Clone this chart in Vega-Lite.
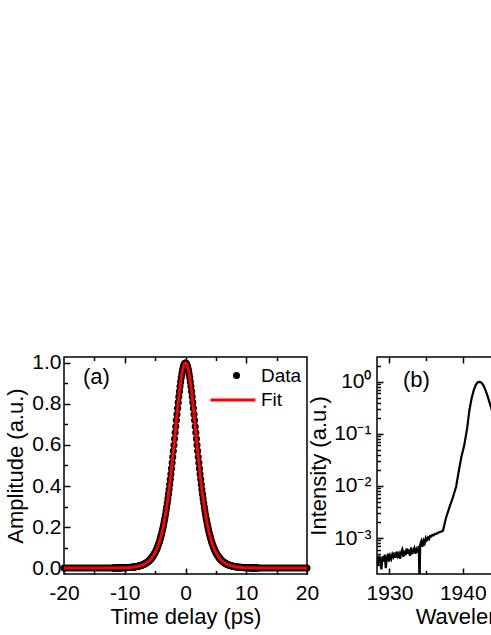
{
  "$schema": "https://vega.github.io/schema/vega-lite/v6.json",
  "autosize": {"type": "pad"},
  "padding": {"left": 4, "top": 351, "right": 0, "bottom": 0},
  "background": "white",
  "datasets": {
    "pulse": [
      {"t":-20,"a":0},{"t":-19.6,"a":0},{"t":-19.2,"a":0},{"t":-18.8,"a":0},{"t":-18.4,"a":0},{"t":-18,"a":0},{"t":-17.6,"a":0},{"t":-17.2,"a":0},{"t":-16.8,"a":0},{"t":-16.4,"a":0},{"t":-16,"a":0},{"t":-15.6,"a":0},{"t":-15.2,"a":0},{"t":-14.8,"a":0},{"t":-14.4,"a":0},{"t":-14,"a":0},{"t":-13.6,"a":0},{"t":-13.2,"a":0.0001},{"t":-12.8,"a":0.0001},{"t":-12.4,"a":0.0002},
      {"t":-12,"a":0.0003},{"t":-11.9,"a":0.0003},{"t":-11.8,"a":0.0004},{"t":-11.7,"a":0.0004},{"t":-11.6,"a":0.0004},{"t":-11.5,"a":0.0005},{"t":-11.4,"a":0.0005},{"t":-11.3,"a":0.0006},{"t":-11.2,"a":0.0006},{"t":-11.1,"a":0.0007},
      {"t":-11,"a":0.0007},{"t":-10.9,"a":0.0008},{"t":-10.8,"a":0.0008},{"t":-10.7,"a":0.0009},{"t":-10.6,"a":0.001},{"t":-10.5,"a":0.001},{"t":-10.4,"a":0.0011},{"t":-10.3,"a":0.0012},{"t":-10.2,"a":0.0013},{"t":-10.1,"a":0.0014},
      {"t":-10,"a":0.0016},{"t":-9.9,"a":0.0017},{"t":-9.8,"a":0.0018},{"t":-9.7,"a":0.002},{"t":-9.6,"a":0.0021},{"t":-9.5,"a":0.0023},{"t":-9.4,"a":0.0025},{"t":-9.3,"a":0.0027},{"t":-9.2,"a":0.0029},{"t":-9.1,"a":0.0032},
      {"t":-9,"a":0.0034},{"t":-8.9,"a":0.0037},{"t":-8.8,"a":0.004},{"t":-8.7,"a":0.0043},{"t":-8.6,"a":0.0047},{"t":-8.5,"a":0.0051},{"t":-8.4,"a":0.0055},{"t":-8.3,"a":0.0059},{"t":-8.2,"a":0.0064},{"t":-8.1,"a":0.007},
      {"t":-8,"a":0.0075},{"t":-7.9,"a":0.0081},{"t":-7.8,"a":0.0088},{"t":-7.7,"a":0.0095},{"t":-7.6,"a":0.0103},{"t":-7.5,"a":0.0111},{"t":-7.4,"a":0.012},{"t":-7.3,"a":0.013},{"t":-7.2,"a":0.014},{"t":-7.1,"a":0.0151},
      {"t":-7,"a":0.0164},{"t":-6.9,"a":0.0177},{"t":-6.8,"a":0.0191},{"t":-6.7,"a":0.0207},{"t":-6.6,"a":0.0223},{"t":-6.5,"a":0.0241},{"t":-6.4,"a":0.0261},{"t":-6.3,"a":0.0282},{"t":-6.2,"a":0.0304},{"t":-6.1,"a":0.0329},
      {"t":-6,"a":0.0355},{"t":-5.9,"a":0.0384},{"t":-5.8,"a":0.0414},{"t":-5.7,"a":0.0447},{"t":-5.6,"a":0.0483},{"t":-5.5,"a":0.0521},{"t":-5.4,"a":0.0563},{"t":-5.3,"a":0.0607},{"t":-5.2,"a":0.0655},{"t":-5.1,"a":0.0707},
      {"t":-5,"a":0.0762},{"t":-4.9,"a":0.0821},{"t":-4.8,"a":0.0885},{"t":-4.7,"a":0.0954},{"t":-4.6,"a":0.1028},{"t":-4.5,"a":0.1107},{"t":-4.4,"a":0.1192},{"t":-4.3,"a":0.1283},{"t":-4.2,"a":0.138},{"t":-4.1,"a":0.1484},
      {"t":-4,"a":0.1595},{"t":-3.9,"a":0.1713},{"t":-3.8,"a":0.1839},{"t":-3.7,"a":0.1974},{"t":-3.6,"a":0.2117},{"t":-3.5,"a":0.2269},{"t":-3.4,"a":0.243},{"t":-3.3,"a":0.2601},{"t":-3.2,"a":0.2781},{"t":-3.1,"a":0.2971},
      {"t":-3,"a":0.3172},{"t":-2.9,"a":0.3382},{"t":-2.8,"a":0.3603},{"t":-2.7,"a":0.3834},{"t":-2.6,"a":0.4075},{"t":-2.5,"a":0.4326},{"t":-2.4,"a":0.4587},{"t":-2.3,"a":0.4855},{"t":-2.2,"a":0.5133},{"t":-2.1,"a":0.5417},
      {"t":-2,"a":0.5707},{"t":-1.9,"a":0.6003},{"t":-1.8,"a":0.6302},{"t":-1.7,"a":0.6604},{"t":-1.6,"a":0.6905},{"t":-1.5,"a":0.7206},{"t":-1.4,"a":0.7502},{"t":-1.3,"a":0.7793},{"t":-1.2,"a":0.8076},{"t":-1.1,"a":0.8348},
      {"t":-1,"a":0.8607},{"t":-0.9,"a":0.8851},{"t":-0.8,"a":0.9077},{"t":-0.7,"a":0.9283},{"t":-0.6,"a":0.9466},{"t":-0.5,"a":0.9625},{"t":-0.4,"a":0.9758},{"t":-0.3,"a":0.9863},{"t":-0.2,"a":0.9939},{"t":-0.1,"a":0.9985},
      {"t":0,"a":1},
      {"t":0.1,"a":0.9985},{"t":0.2,"a":0.9939},{"t":0.3,"a":0.9863},{"t":0.4,"a":0.9758},{"t":0.5,"a":0.9625},{"t":0.6,"a":0.9466},{"t":0.7,"a":0.9283},{"t":0.8,"a":0.9077},{"t":0.9,"a":0.8851},{"t":1,"a":0.8607},
      {"t":1.1,"a":0.8348},{"t":1.2,"a":0.8076},{"t":1.3,"a":0.7793},{"t":1.4,"a":0.7502},{"t":1.5,"a":0.7206},{"t":1.6,"a":0.6905},{"t":1.7,"a":0.6604},{"t":1.8,"a":0.6302},{"t":1.9,"a":0.6003},{"t":2,"a":0.5707},
      {"t":2.1,"a":0.5417},{"t":2.2,"a":0.5133},{"t":2.3,"a":0.4855},{"t":2.4,"a":0.4587},{"t":2.5,"a":0.4326},{"t":2.6,"a":0.4075},{"t":2.7,"a":0.3834},{"t":2.8,"a":0.3603},{"t":2.9,"a":0.3382},{"t":3,"a":0.3172},
      {"t":3.1,"a":0.2971},{"t":3.2,"a":0.2781},{"t":3.3,"a":0.2601},{"t":3.4,"a":0.243},{"t":3.5,"a":0.2269},{"t":3.6,"a":0.2117},{"t":3.7,"a":0.1974},{"t":3.8,"a":0.1839},{"t":3.9,"a":0.1713},{"t":4,"a":0.1595},
      {"t":4.1,"a":0.1484},{"t":4.2,"a":0.138},{"t":4.3,"a":0.1283},{"t":4.4,"a":0.1192},{"t":4.5,"a":0.1107},{"t":4.6,"a":0.1028},{"t":4.7,"a":0.0954},{"t":4.8,"a":0.0885},{"t":4.9,"a":0.0821},{"t":5,"a":0.0762},
      {"t":5.1,"a":0.0707},{"t":5.2,"a":0.0655},{"t":5.3,"a":0.0607},{"t":5.4,"a":0.0563},{"t":5.5,"a":0.0521},{"t":5.6,"a":0.0483},{"t":5.7,"a":0.0447},{"t":5.8,"a":0.0414},{"t":5.9,"a":0.0384},{"t":6,"a":0.0355},
      {"t":6.1,"a":0.0329},{"t":6.2,"a":0.0304},{"t":6.3,"a":0.0282},{"t":6.4,"a":0.0261},{"t":6.5,"a":0.0241},{"t":6.6,"a":0.0223},{"t":6.7,"a":0.0207},{"t":6.8,"a":0.0191},{"t":6.9,"a":0.0177},{"t":7,"a":0.0164},
      {"t":7.1,"a":0.0151},{"t":7.2,"a":0.014},{"t":7.3,"a":0.013},{"t":7.4,"a":0.012},{"t":7.5,"a":0.0111},{"t":7.6,"a":0.0103},{"t":7.7,"a":0.0095},{"t":7.8,"a":0.0088},{"t":7.9,"a":0.0081},{"t":8,"a":0.0075},
      {"t":8.1,"a":0.007},{"t":8.2,"a":0.0064},{"t":8.3,"a":0.0059},{"t":8.4,"a":0.0055},{"t":8.5,"a":0.0051},{"t":8.6,"a":0.0047},{"t":8.7,"a":0.0043},{"t":8.8,"a":0.004},{"t":8.9,"a":0.0037},{"t":9,"a":0.0034},
      {"t":9.1,"a":0.0032},{"t":9.2,"a":0.0029},{"t":9.3,"a":0.0027},{"t":9.4,"a":0.0025},{"t":9.5,"a":0.0023},{"t":9.6,"a":0.0021},{"t":9.7,"a":0.002},{"t":9.8,"a":0.0018},{"t":9.9,"a":0.0017},{"t":10,"a":0.0016},
      {"t":10.1,"a":0.0014},{"t":10.2,"a":0.0013},{"t":10.3,"a":0.0012},{"t":10.4,"a":0.0011},{"t":10.5,"a":0.001},{"t":10.6,"a":0.001},{"t":10.7,"a":0.0009},{"t":10.8,"a":0.0008},{"t":10.9,"a":0.0008},{"t":11,"a":0.0007},
      {"t":11.1,"a":0.0007},{"t":11.2,"a":0.0006},{"t":11.3,"a":0.0006},{"t":11.4,"a":0.0005},{"t":11.5,"a":0.0005},{"t":11.6,"a":0.0004},{"t":11.7,"a":0.0004},{"t":11.8,"a":0.0004},{"t":11.9,"a":0.0003},{"t":12,"a":0.0003},
      {"t":12.4,"a":0.0002},{"t":12.8,"a":0.0001},{"t":13.2,"a":0.0001},{"t":13.6,"a":0},{"t":14,"a":0},{"t":14.4,"a":0},{"t":14.8,"a":0},{"t":15.2,"a":0},{"t":15.6,"a":0},{"t":16,"a":0},{"t":16.4,"a":0},{"t":16.8,"a":0},{"t":17.2,"a":0},{"t":17.6,"a":0},{"t":18,"a":0},{"t":18.4,"a":0},{"t":18.8,"a":0},{"t":19.2,"a":0},{"t":19.6,"a":0},{"t":20,"a":0}
    ],
    "spec": [
      {"w":1928.3,"i":4.37e-4},{"w":1928.45,"i":3.02e-4},{"w":1928.6,"i":4.57e-4},{"w":1928.75,"i":3.98e-4},{"w":1928.9,"i":2.51e-4},{"w":1929.05,"i":4.47e-4},{"w":1929.2,"i":3.55e-4},{"w":1929.35,"i":4.79e-4},{"w":1929.5,"i":2.63e-4},{"w":1929.65,"i":4.17e-4},
      {"w":1929.8,"i":5.01e-4},{"w":1929.95,"i":3.55e-4},{"w":1930.1,"i":4.57e-4},{"w":1930.25,"i":3.98e-4},{"w":1930.4,"i":4.9e-4},{"w":1930.55,"i":4.37e-4},{"w":1930.7,"i":5.25e-4},{"w":1930.85,"i":4.17e-4},{"w":1931.0,"i":5.5e-4},{"w":1931.15,"i":4.47e-4},
      {"w":1931.3,"i":5.01e-4},{"w":1931.45,"i":3.98e-4},{"w":1931.6,"i":5.37e-4},{"w":1931.75,"i":6.03e-4},{"w":1931.9,"i":4.37e-4},{"w":1932.05,"i":5.75e-4},{"w":1932.2,"i":4.68e-4},{"w":1932.35,"i":6.31e-4},{"w":1932.5,"i":5.01e-4},{"w":1932.65,"i":6.03e-4},
      {"w":1932.8,"i":4.57e-4},{"w":1932.95,"i":6.61e-4},{"w":1933.1,"i":4.9e-4},{"w":1933.25,"i":5.75e-4},{"w":1933.4,"i":6.46e-4},{"w":1933.55,"i":5.01e-4},{"w":1933.7,"i":6.03e-4},{"w":1933.85,"i":5.25e-4},{"w":1934.0,"i":7.08e-4},{"w":1934.1,"i":1.41e-4},
      {"w":1934.2,"i":7.59e-4},{"w":1934.35,"i":8.71e-4},{"w":1934.5,"i":6.76e-4},{"w":1934.65,"i":8.91e-4},{"w":1934.8,"i":7.94e-4},{"w":1934.95,"i":1.0e-3},{"w":1935.1,"i":9.12e-4},{"w":1935.25,"i":1.023e-3},{"w":1935.4,"i":9.55e-4},{"w":1935.55,"i":1.096e-3},
      {"w":1935.7,"i":1.072e-3},{"w":1935.85,"i":1.148e-3},{"w":1936.0,"i":1.122e-3},{"w":1936.2,"i":1.202e-3},{"w":1936.4,"i":1.202e-3},{"w":1936.6,"i":1.259e-3},{"w":1936.8,"i":1.288e-3},{"w":1937.0,"i":1.318e-3},{"w":1937.3,"i":1.38e-3},{"w":1937.7,"i":2.4e-3},
      {"w":1938.2,"i":3.98e-3},{"w":1938.6,"i":5.75e-3},{"w":1939.1,"i":9.77e-3},{"w":1939.4,"i":0.01738},{"w":1939.8,"i":0.03548},{"w":1940.2,"i":0.06026},{"w":1940.6,"i":0.1288},{"w":1940.9,"i":0.2818},{"w":1941.2,"i":0.4786},{"w":1941.5,"i":0.6918},
      {"w":1941.8,"i":0.8913},{"w":1942.1,"i":0.9886},{"w":1942.3,"i":1},{"w":1942.5,"i":0.9772},{"w":1942.8,"i":0.871},{"w":1943.1,"i":0.6918},{"w":1943.4,"i":0.5248},{"w":1943.7,"i":0.3802},{"w":1944.0,"i":0.2754},{"w":1944.4,"i":0.166},
      {"w":1944.8,"i":0.0955},{"w":1945.2,"i":0.0501},{"w":1945.6,"i":0.0251},{"w":1946.0,"i":0.01259},{"w":1946.5,"i":5.62e-3},{"w":1947.0,"i":2.82e-3},{"w":1947.5,"i":1.66e-3},{"w":1948.0,"i":1.12e-3},{"w":1948.5,"i":8.91e-4},{"w":1949.0,"i":7.59e-4},
      {"w":1950,"i":6.31e-4},{"w":1951,"i":5.62e-4},{"w":1952,"i":5.01e-4},{"w":1954,"i":4.79e-4},{"w":1956,"i":4.47e-4},{"w":1958,"i":4.37e-4},{"w":1960,"i":4.17e-4},{"w":1961.5,"i":3.98e-4}
    ]
  },
  "hconcat": [
    {
      "width": 243,
      "height": 217,
      "data": {"name": "pulse"},
      "title": {"text": "(a)", "anchor": "start", "frame": "group", "offset": 0, "dx": 19, "dy": 37, "baseline": "top", "fontSize": 22, "fontWeight": "normal", "color": "black", "font": "Liberation Sans"},
      "layer": [
        {
          "mark": {"type": "point", "filled": true, "color": "black", "size": 50, "opacity": 1},
          "encoding": {
            "x": {"field": "t", "type": "quantitative", "scale": {"domain": [-20, 20], "nice": false, "zero": false},
              "axis": {"orient": "bottom", "values": [-20, -15, -10, -5, 0, 5, 10, 15, 20],
                "labelExpr": "datum.value % 10 === 0 ? (datum.value < 0 ? '-' + abs(datum.value) : '' + datum.value) : ''",
                "tickSize": {"condition": {"test": "datum.value % 10 === 0", "value": -6}, "value": -3.5},
                "labelPadding": 14, "title": "Time delay (ps)", "titlePadding": 1}},
            "y": {"field": "a", "type": "quantitative", "scale": {"domain": [-0.029, 1.029], "nice": false, "zero": false},
              "axis": {"orient": "left", "values": [0, 0.1, 0.2, 0.3, 0.4, 0.5, 0.6, 0.7, 0.8, 0.9, 1.0],
                "labelExpr": "round(datum.value*10) % 2 === 0 ? format(datum.value, '.1f') : ''",
                "tickSize": {"condition": {"test": "round(datum.value*10) % 2 === 0", "value": -6}, "value": -3.5},
                "labelPadding": 9, "title": "Amplitude (a.u.)", "titlePadding": 4}},
            "shape": {"datum": "Data", "type": "nominal", "scale": {"range": ["circle"]},
              "legend": {"orient": "none", "legendX": 163, "legendY": 9, "title": null, "padding": 0, "labelFontSize": 19, "labelFont": "Liberation Sans", "labelColor": "black", "labelOffset": 15, "symbolSize": 50, "symbolFillColor": "black", "symbolStrokeColor": "black", "symbolStrokeWidth": 0}}
          }
        },
        {
          "mark": {"type": "line", "strokeWidth": 3},
          "encoding": {
            "x": {"field": "t", "type": "quantitative",
              "axis": {"orient": "top", "values": [-15, -10, -5, 0, 5, 10, 15], "labels": false, "title": null,
                "tickSize": {"condition": {"test": "datum.value % 10 === 0", "value": -6}, "value": -3.5}}},
            "y": {"field": "a", "type": "quantitative", "axis": null},
            "color": {"datum": "Fit", "type": "nominal", "scale": {"range": ["#ff0000"]},
              "legend": {"orient": "none", "legendX": 145, "legendY": 19, "title": null, "padding": 0, "labelFontSize": 19, "labelFont": "Liberation Sans", "labelColor": "black", "labelOffset": 4, "symbolType": "stroke", "symbolSize": 2025, "symbolStrokeWidth": 3, "symbolStrokeColor": "#ff0000"}}
          }
        }
      ],
      "resolve": {"axis": {"x": "independent", "y": "independent"}}
    },
    {
      "width": 243,
      "height": 217,
      "data": {"name": "spec"},
      "title": {"text": "(b)", "anchor": "start", "frame": "group", "offset": 0, "dx": 26, "dy": 37, "baseline": "top", "fontSize": 22, "fontWeight": "normal", "color": "black", "font": "Liberation Sans"},
      "layer": [
        {
          "mark": {"type": "line", "color": "black", "strokeWidth": 2.2, "clip": true},
          "encoding": {
            "x": {"field": "w", "type": "quantitative", "scale": {"domain": [1928.3, 1961.45], "nice": false, "zero": false},
              "axis": {"orient": "bottom", "values": [1930, 1935, 1940, 1945, 1950, 1955, 1960],
                "labelExpr": "datum.value % 10 === 0 ? format(datum.value, 'd') : ''",
                "tickSize": {"condition": {"test": "datum.value % 10 === 0", "value": -6}, "value": -3.5},
                "labelPadding": 14, "title": "Wavelength (nm)", "titlePadding": 1}},
            "y": {"field": "i", "type": "quantitative", "scale": {"type": "log", "domain": [0.000204, 3], "nice": false},
              "axis": {"orient": "left",
                "values": [0.0003, 0.0004, 0.0005, 0.0006, 0.0007, 0.0008, 0.0009, 0.001, 0.002, 0.003, 0.004, 0.005, 0.006, 0.007, 0.008, 0.009, 0.01, 0.02, 0.03, 0.04, 0.05, 0.06, 0.07, 0.08, 0.09, 0.1, 0.2, 0.3, 0.4, 0.5, 0.6, 0.7, 0.8, 0.9, 1, 2],
                "labelExpr": "abs(log(datum.value)/LN10 - round(log(datum.value)/LN10)) < 0.001 ? ['10⁻³','10⁻²','10⁻¹','10⁰'][round(log(datum.value)/LN10)+3] : ''",
                "tickSize": {"condition": {"test": "abs(log(datum.value)/LN10 - round(log(datum.value)/LN10)) < 0.001", "value": -6}, "value": -3.5},
                "labelPadding": 12, "title": "Intensity (a.u.)", "titlePadding": 3}}
          }
        },
        {
          "mark": {"type": "line", "opacity": 0},
          "encoding": {
            "x": {"field": "w", "type": "quantitative",
              "axis": {"orient": "top", "values": [1930, 1935, 1940, 1945, 1950, 1955, 1960], "labels": false, "title": null,
                "tickSize": {"condition": {"test": "datum.value % 10 === 0", "value": -6}, "value": -3.5}}},
            "y": {"field": "i", "type": "quantitative", "axis": null}
          }
        }
      ],
      "resolve": {"axis": {"x": "independent", "y": "independent"}}
    }
  ],
  "spacing": 70,
  "bounds": "flush",
  "config": {
    "font": "Liberation Sans",
    "view": {"stroke": "black", "strokeWidth": 1.5},
    "axis": {"grid": false, "domain": false, "labelFont": "Liberation Sans", "labelFontSize": 21, "labelColor": "black", "titleFont": "Liberation Sans", "titleFontSize": 22, "titleFontWeight": "normal", "titleColor": "black", "tickColor": "black", "tickWidth": 1.5, "labelFlush": false, "labelOverlap": false},
    "title": {"font": "Liberation Sans"}
  }
}
